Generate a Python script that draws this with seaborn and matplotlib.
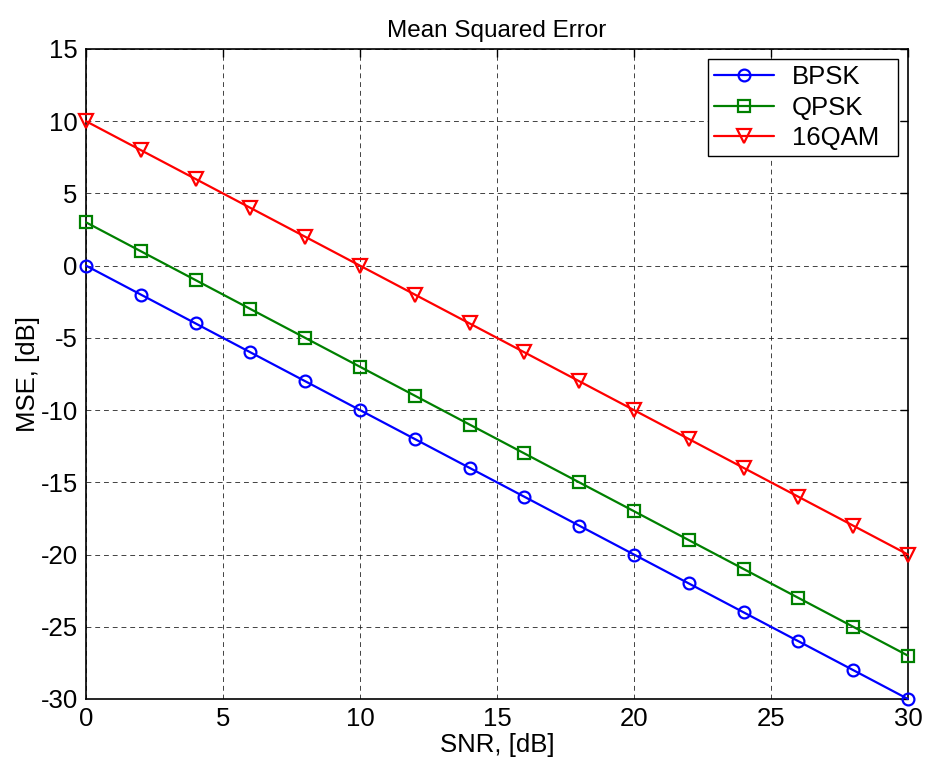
import matplotlib
matplotlib.use("Agg")
import matplotlib.pyplot as plt
import seaborn as sns
import pandas as pd

snr = [0, 2, 4, 6, 8, 10, 12, 14, 16, 18, 20, 22, 24, 26, 28, 30]
bpsk = [0, -2, -4, -6, -8, -10, -12, -14, -16, -18, -20, -22, -24, -26, -28, -30]
qpsk = [3, 1, -1, -3, -5, -7, -9, -11, -13, -15, -17, -19, -21, -23, -25, -27]
qam16 = [10, 8, 6, 4, 2, 0, -2, -4, -6, -8, -10, -12, -14, -16, -18, -20]
labels = ["BPSK", "QPSK", "16QAM"]
xticks = [0, 5, 10, 15, 20, 25, 30]
yticks = [-30, -25, -20, -15, -10, -5, 0, 5, 10, 15]

sns.set_style("white")
plt.rcParams['font.family'] = ['Liberation Sans', 'DejaVu Sans']
plt.rcParams['axes.unicode_minus'] = False
plt.rcParams['text.color'] = 'black'
plt.rcParams['xtick.color'] = 'black'
plt.rcParams['ytick.color'] = 'black'
plt.rcParams['axes.labelcolor'] = 'black'

fig = plt.figure(figsize=(9.26, 7.67), dpi=100)
ax = fig.add_axes([86/926, 1-699/767, (908-86)/926, (699-49)/767])

colors = ["#0000ff", "#008000", "#ff0000"]
markers = ["o", "s", "v"]
msizes = [8.5, 8, 10]
for ys, lab, c, m, ms in zip([bpsk, qpsk, qam16], labels, colors, markers, msizes):
    df = pd.DataFrame({"x": snr, "y": ys})
    sns.lineplot(data=df, x="x", y="y", ax=ax, color=c, marker=m, markersize=ms,
                 markerfacecolor="none", markeredgecolor=c, markeredgewidth=1.6,
                 linewidth=1.6, label=lab, clip_on=False, zorder=3)

ax.set_xlim(0, 30)
ax.set_ylim(-30, 15)
ax.set_xticks(xticks)
ax.set_yticks(yticks)
ax.grid(True, color="#202020", linestyle=(0, (5, 4)), linewidth=0.7, alpha=0.85)
ax.set_axisbelow(True)
for s in ax.spines.values():
    s.set_color("black")
    s.set_linewidth(1.2)
ax.tick_params(direction="in", length=6, width=1, labelsize=18.5, top=True, right=True, pad=6,
               colors="black")
ax.set_xlabel("SNR, [dB]", fontsize=18.5, labelpad=1)
ax.set_ylabel("MSE, [dB]", fontsize=18.5, labelpad=0)
ax.set_title("Mean Squared Error", fontsize=17.5, pad=9)
bx0 = (708 - 86) / 822
bx1 = (898 - 86) / 822
by1 = (699 - 59) / 650
leg = ax.legend(loc="upper right", bbox_to_anchor=(bx0, 0.5, bx1 - bx0, by1 - 0.5),
                mode="expand", fontsize=18.5, frameon=True, fancybox=False,
                edgecolor="black", framealpha=1, borderpad=0.25, handlelength=2.3,
                handletextpad=0.7, labelspacing=0.24, borderaxespad=0.0)
leg.get_frame().set_linewidth(1.0)

fig.savefig("out.png", dpi=100)
